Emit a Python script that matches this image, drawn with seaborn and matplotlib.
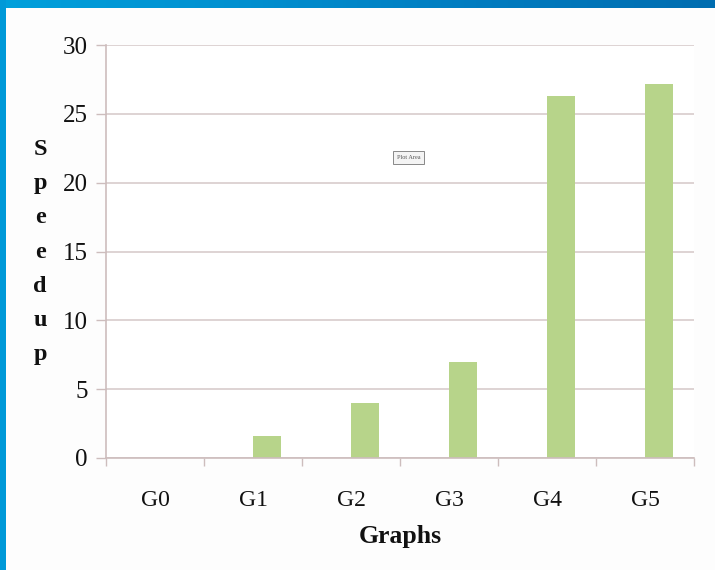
import numpy as np
import pandas as pd
import seaborn as sns
import matplotlib.pyplot as plt
from matplotlib.ticker import FixedLocator, MultipleLocator
from matplotlib.colors import LinearSegmentedColormap

# Data
graphs = ["G0", "G1", "G2", "G3", "G4", "G5"]
speedup = [0.0, 1.6, 4.0, 7.0, 26.3, 27.2]
# empty companion series that occupies the left half of each category slot
spacer = [0.0, 0.0, 0.0, 0.0, 0.0, 0.0]
series_names = ["spacer", "Speedup"]

df = pd.DataFrame({
    "Graphs": graphs * 2,
    "series": [series_names[0]] * len(graphs) + [series_names[1]] * len(graphs),
    "value": spacer + speedup,
})

sns.set_theme(style="white")
plt.rcParams["font.family"] = ["Liberation Serif", "DejaVu Serif"]

fig = plt.figure(figsize=(7.15, 5.70), dpi=100)
fig.patch.set_facecolor("#FDFDFD")

# blue frame: gradient band on top, solid band on the left
band = fig.add_axes([0, 1 - 8 / 570, 1, 8 / 570])
grad = np.linspace(0, 1, 256).reshape(1, -1)
cmap = LinearSegmentedColormap.from_list("frame", ["#00A0DC", "#0090D0", "#007CC0", "#006DB0"])
band.imshow(grad, aspect="auto", cmap=cmap)
band.set_axis_off()
left = fig.add_axes([0, 0, 6 / 715, 1])
left.set_facecolor("#0099D8")
left.set_xticks([]); left.set_yticks([])
for s in left.spines.values():
    s.set_visible(False)

ax = fig.add_axes([106 / 715, 1 - 458 / 570, 588 / 715, 413 / 570])
ax.set_facecolor("#FFFFFF")

sns.barplot(
    data=df, x="Graphs", y="value", hue="series", hue_order=series_names,
    order=graphs, palette=["#FFFFFF", "#B7D48A"], width=0.58, gap=0,
    errorbar=None, legend=False, ax=ax, linewidth=0, saturation=1,
)

ax.set_xlim(-0.5, len(graphs) - 0.5)
ax.set_ylim(0, 30)
ax.yaxis.set_major_locator(MultipleLocator(5))
ax.yaxis.grid(True, color="#D8CCCC", linewidth=1.2)
ax.set_axisbelow(True)

grid_col = "#CDBDBD"
for side in ["top", "right"]:
    ax.spines[side].set_visible(False)
for side in ["left", "bottom"]:
    ax.spines[side].set_color(grid_col)
    ax.spines[side].set_linewidth(1.2)

# category boundary ticks on the x axis, labels centred in each slot
ax.xaxis.set_minor_locator(FixedLocator(np.arange(-0.5, len(graphs), 1.0)))
ax.tick_params(axis="x", which="major", length=0, pad=23, labelsize=17, labelcolor="#111111")
ax.tick_params(axis="x", which="minor", length=6, width=1, color=grid_col, direction="out", bottom=True)
ax.tick_params(axis="y", which="major", length=7, width=1, color=grid_col, direction="out",
               left=True, pad=6, labelsize=18, labelcolor="#111111")

ax.set_xlabel("Graphs", fontsize=18.5, fontweight="bold", color="#111111", labelpad=10)
ax.set_ylabel("")

fig.text(40 / 715, 1 - 252 / 570, "S\np\ne\ne\nd\nu\np", ha="center", va="center",
         fontsize=17.5, fontweight="bold", color="#111111", linespacing=1.82)

# small "Plot Area" tooltip
ax.text(0.515, 0.728, "Plot Area", transform=ax.transAxes, fontsize=4.5, color="#555555",
        ha="center", va="center",
        bbox=dict(boxstyle="square,pad=0.6", facecolor="#F4F4F4", edgecolor="#888888", linewidth=0.7))

fig.savefig("out.png", dpi=100, facecolor=fig.get_facecolor())
